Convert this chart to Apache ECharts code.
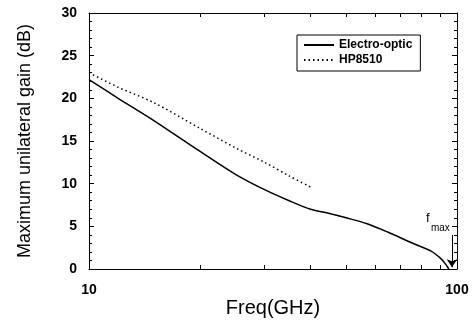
<!DOCTYPE html>
<html>
<head>
<meta charset="utf-8">
<script src="https://cdn.jsdelivr.net/npm/echarts@6/dist/echarts.min.js"></script>
<style>
  html, body { margin: 0; padding: 0; background: #fff; }
  #chart { width: 472px; height: 323px; }
</style>
</head>
<body>
<div id="chart"></div>
<script>
// values
const eoFreq = [10, 12, 15, 20, 25, 30, 35, 40, 45, 50, 57, 65, 75, 85, 90, 93, 95];
const eoGain = [22.2, 20.0, 17.4, 13.8, 11.1, 9.3, 8.0, 7.0, 6.5, 6.0, 5.3, 4.3, 3.1, 2.1, 1.3, 0.6, 0.0];
const hpFreq = [10, 12, 15, 20, 25, 30, 35, 40];
const hpGain = [23.0, 21.3, 19.5, 16.5, 14.2, 12.5, 10.9, 9.6];
const xTickValues = [20, 30, 40, 50, 60, 70, 80, 90];
const xLabelValues = [10, 100];
const fmaxFreq = 96.9;
const fmaxArrow = [4.0, 0.2];

const font = 'Liberation Sans, Arial, sans-serif';
const chart = echarts.init(document.getElementById('chart'));

const zip = (xs, ys) => xs.map((x, i) => [x, ys[i]]);

function apply(opt) {
  try { chart.setOption(opt); } catch (e) { console.error(e); }
}

// axes: box frame with inward ticks on all four sides
function xAxis(pos, labels) {
  return {
    type: 'log', min: 10, max: 100, position: pos,
    axisLine: { show: true, onZero: false, lineStyle: { color: '#000' } },
    axisTick: { show: true, interval: 0, inside: true, length: 4, customValues: xTickValues.slice(), lineStyle: { color: '#000' } },
    axisLabel: labels
      ? { customValues: xLabelValues.slice(), margin: 14, fontFamily: font, fontSize: 14, fontWeight: 'bold', color: '#000' }
      : { show: false },
    splitLine: { show: false }
  };
}
function yAxis(pos, labels) {
  return {
    type: 'value', min: 0, max: 30, interval: 5, position: pos,
    axisLine: { show: true, lineStyle: { color: '#000' } },
    axisTick: { show: true, interval: 0, inside: true, length: 5, lineStyle: { color: '#000' } },
    minorTick: { show: true, splitNumber: 5, length: 3, lineStyle: { color: '#000' } },
    axisLabel: labels
      ? { margin: 12, fontFamily: font, fontSize: 14, fontWeight: 'bold', color: '#000' }
      : { show: false },
    splitLine: { show: false }
  };
}

apply({
  animation: false,
  grid: { left: 89, right: 15, top: 13, bottom: 54 },
  xAxis: [xAxis('bottom', true), xAxis('top', false)],
  yAxis: [yAxis('left', true), yAxis('right', false)],
  series: [
    {
      name: 'Electro-optic', type: 'line', smooth: 0.3,
      symbol: 'none',
      lineStyle: { color: '#000', width: 1.5 },
      itemStyle: { color: '#000' },
      data: zip(eoFreq, eoGain)
    },
    {
      name: 'HP8510', type: 'line', smooth: 0.3,
      symbol: 'none',
      lineStyle: { color: '#000', width: 1.5, type: [1.5, 3] },
      itemStyle: { color: '#000' },
      data: zip(hpFreq, hpGain)
    }
  ]
});

apply({
  legend: {
    orient: 'vertical',
    left: 297, top: 35,
    padding: [4, 8, 5, 6],
    itemGap: 3,
    itemWidth: 30, itemHeight: 14,
    borderColor: '#000', borderWidth: 1,
    itemStyle: { opacity: 0 },
    textStyle: { fontFamily: font, fontSize: 12, fontWeight: 'bold', color: '#000' },
    data: ['Electro-optic', 'HP8510']
  }
});

// f_max arrow
apply({
  series: [{
    markLine: {
      silent: true,
      symbol: ['none', 'arrow'], symbolSize: 8,
      lineStyle: { color: '#000', width: 1, type: 'solid' },
      label: { show: false },
      data: [[{ coord: [fmaxFreq, fmaxArrow[0]] }, { coord: [fmaxFreq, fmaxArrow[1]] }]]
    }
  }]
});

// axis titles and the f_max label
const p = chart.convertToPixel({ xAxisIndex: 0, yAxisIndex: 0 }, [fmaxFreq, fmaxArrow[0]]);
apply({
  graphic: [
    { type: 'text', x: 273, y: 308,
      style: { text: 'Freq(GHz)', fontFamily: font, fontSize: 20, fill: '#000', align: 'center', verticalAlign: 'middle' } },
    { type: 'text', x: 25, y: 141, rotation: Math.PI / 2,
      style: { text: 'Maximum unilateral gain (dB)', fontFamily: font, fontSize: 18, fill: '#000', align: 'center', verticalAlign: 'middle' } },
    { type: 'text', x: p[0] - 26, y: p[1] - 23,
      style: { text: 'f', fontFamily: font, fontSize: 13, fill: '#000' } },
    { type: 'text', x: p[0] - 21, y: p[1] - 12,
      style: { text: 'max', fontFamily: font, fontSize: 10, fill: '#000' } }
  ]
});
</script>
</body>
</html>
